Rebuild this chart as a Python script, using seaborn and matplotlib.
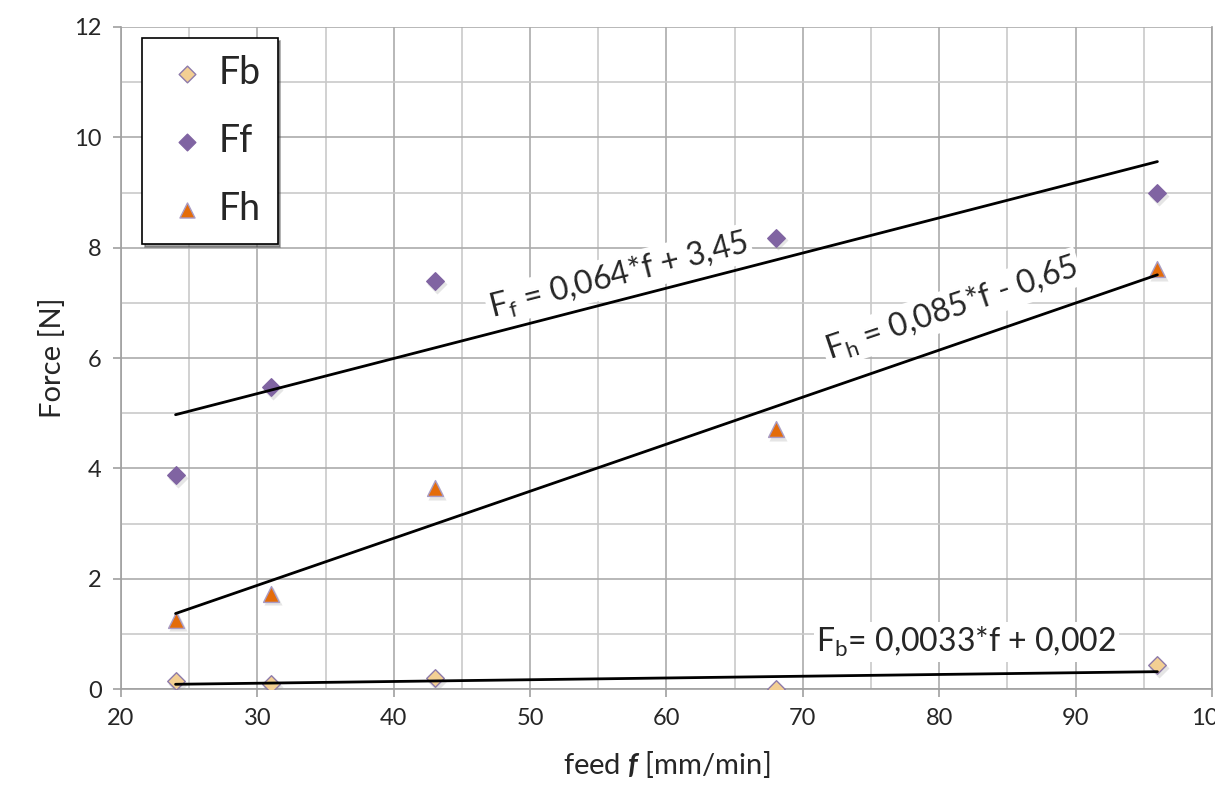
import numpy as np
import pandas as pd
import seaborn as sns
import matplotlib.pyplot as plt
from matplotlib.ticker import MultipleLocator

# data
feed = [24, 31, 43, 68, 96]
fb = [0.15, 0.09, 0.20, 0.00, 0.44]
ff = [3.88, 5.47, 7.39, 8.18, 8.99]
fh = [1.26, 1.73, 3.64, 4.71, 7.61]

series = ['Fb', 'Ff', 'Fh']
fb_label = r'F$_{\mathrm{b}}$= 0,0033*f + 0,002'
ff_label = r'F$_{\mathrm{f}}$ = 0,064*f + 3,45'
fh_label = r'F$_{\mathrm{h}}$ = 0,085*f - 0,65'

df = pd.DataFrame({'feed': feed, 'Fb': fb, 'Ff': ff, 'Fh': fh})
df_long = df.melt(id_vars='feed', value_vars=series, var_name='series', value_name='force')

sns.set_style('white')
plt.rcParams['font.family'] = ['Lato', 'DejaVu Sans']
plt.rcParams['mathtext.fontset'] = 'custom'
plt.rcParams['mathtext.rm'] = 'Lato'
plt.rcParams['mathtext.it'] = 'Lato:italic'
plt.rcParams['mathtext.bf'] = 'Lato:bold'
plt.rcParams['mathtext.bfit'] = 'Lato:bold:italic'

fig = plt.figure(figsize=(12.15, 7.87), dpi=100)
ax = fig.add_axes([0.0996, 0.1245, 0.8979, 0.8412])

# trend lines (least squares fit over the data range)
for s in series:
    sns.regplot(data=df, x='feed', y=s, scatter=False, ci=None, ax=ax,
                color='black', line_kws={'lw': 2.0, 'zorder': 7})

palette = {'Fb': '#F3CF93', 'Ff': '#8064A2', 'Fh': '#E46C0A'}
markers = {'Fb': 'D', 'Ff': 'D', 'Fh': '^'}
edges = {'Fb': '#8E7BAA', 'Ff': '#8064A2', 'Fh': '#A99BC4'}
sizes = {'Fb': 80, 'Ff': 80, 'Fh': 130}

for s in series:
    sub = df_long[df_long['series'] == s]
    # soft shadow
    ax.scatter(sub['feed'] + 0.15, sub['force'] - 0.05, s=sizes[s] * 1.3, marker=markers[s],
               color='#999999', alpha=0.25, lw=0, zorder=4)
    sns.scatterplot(data=sub, x='feed', y='force', marker=markers[s], s=sizes[s],
                    color=palette[s], edgecolor=edges[s], linewidth=1.0,
                    label=s, ax=ax, zorder=5)

ax.set_xlim(20, 100)
ax.set_ylim(0, 12)
ax.xaxis.set_major_locator(MultipleLocator(10))
ax.xaxis.set_minor_locator(MultipleLocator(5))
ax.yaxis.set_major_locator(MultipleLocator(2))
ax.yaxis.set_minor_locator(MultipleLocator(1))
ax.grid(which='major', color='#ababab', lw=1.2)
ax.grid(which='minor', color='#c9c9c9', lw=1.2)
ax.set_axisbelow(True)
for side in ['left', 'bottom', 'right', 'top']:
    ax.spines[side].set_color('#a0a0a0')
    ax.spines[side].set_linewidth(1.2)
ax.spines['top'].set_visible(False)
ax.tick_params(which='major', direction='out', length=6, width=1.2, color='#a0a0a0',
               labelsize=17, pad=8, bottom=True, left=True)

ax.set_xlabel(r'feed $\mathbfit{f}$ [mm/min]', fontsize=21, labelpad=14)
ax.set_ylabel('Force [N]', fontsize=21, labelpad=6)

box = dict(facecolor='white', edgecolor='none', pad=2)
ax.text(56.5, 7.50, ff_label, fontsize=23, rotation=14.3, ha='center', va='center',
        rotation_mode='anchor', bbox=box, zorder=6)
ax.text(80.9, 6.90, fh_label, fontsize=23, rotation=18.6, ha='center', va='center',
        rotation_mode='anchor', bbox=box, zorder=6)
ax.text(82.0, 0.85, fb_label, fontsize=23, ha='center', va='center', bbox=box, zorder=6)

leg = ax.legend(loc='upper left', bbox_to_anchor=(0.019, 0.983), borderaxespad=0,
                fontsize=27, frameon=True, fancybox=False, shadow=True,
                edgecolor='black', framealpha=1, labelspacing=0.85,
                handletextpad=0.1, borderpad=0.45, handlelength=1.5, markerscale=0.95)
leg.get_frame().set_linewidth(1.2)
leg.set_zorder(10)

fig.savefig('out.png', dpi=100)
